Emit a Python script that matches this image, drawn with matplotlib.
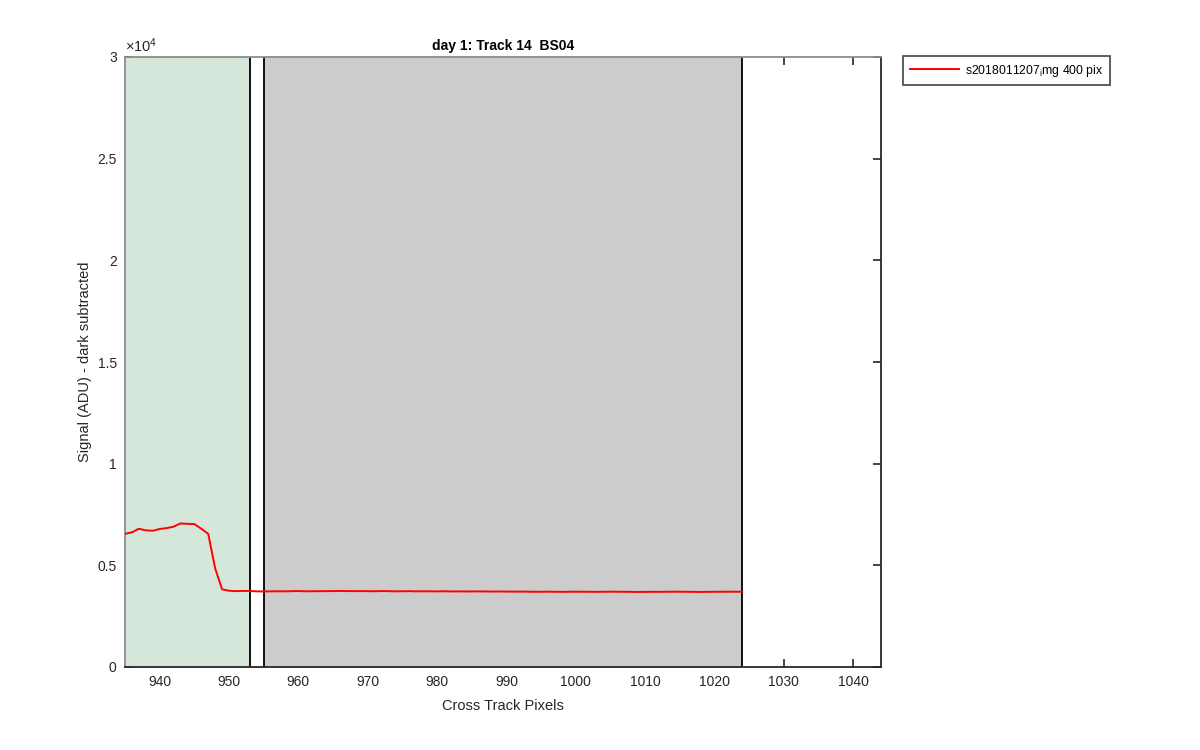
import matplotlib
matplotlib.use("Agg")
import matplotlib.pyplot as plt
import numpy as np
from matplotlib.ticker import FuncFormatter, MultipleLocator

plt.rcParams['font.family'] = ['Liberation Sans', 'DejaVu Sans']
plt.rcParams['mathtext.fontset'] = 'custom'
plt.rcParams['mathtext.rm'] = 'Liberation Sans'
plt.rcParams['mathtext.it'] = 'Liberation Sans'

# ---- data ----
pixels = list(range(935, 1025))
signal_head = [6550, 6620, 6800, 6720, 6700, 6790, 6830, 6900, 7060, 7040,
               7030, 6800, 6550, 4850, 3820, 3750, 3730, 3740, 3740, 3720,
               3715, 3720, 3725, 3720, 3730, 3735, 3725, 3725, 3730, 3730]
signal_mid = [3735, 3740, 3735, 3730, 3735, 3730, 3725, 3735, 3730, 3720,
              3725, 3730, 3720, 3725, 3720, 3720, 3725, 3715, 3720, 3715,
              3715, 3720, 3715, 3710, 3715, 3710, 3705, 3710, 3705, 3700]
signal_tail = [3700, 3705, 3700, 3695, 3700, 3705, 3700, 3700, 3695, 3700,
               3705, 3700, 3700, 3695, 3690, 3695, 3700, 3695, 3700, 3705,
               3700, 3700, 3695, 3690, 3695, 3700, 3700, 3705, 3700, 3705]
signal = signal_head + signal_mid + signal_tail

green_span = (935, 953)
gray_span = (955, 1024)
xlim = (935, 1044)
ylim = (0, 30000)
xticks = [940, 950, 960, 970, 980, 990, 1000, 1010, 1020, 1030, 1040]
yticks = [0, 5000, 10000, 15000, 20000, 25000, 30000]
title = "day 1: Track 14  BS04"
legend_label = r"s2018011207$_{\mathregular{i}}$mg 400 pix"

fig = plt.figure(figsize=(12, 7.5), dpi=100)
ax = fig.add_axes([125/1200, 1-667/750, (881-125)/1200, (667-57)/750])
ax.set_axisbelow(True)

ax.axvspan(*green_span, facecolor=(213/255, 231/255, 218/255), edgecolor='none', zorder=1)
ax.axvspan(*gray_span, facecolor=(204/255, 204/255, 204/255), edgecolor='none', zorder=1)
for xv in [green_span[1], gray_span[0], gray_span[1]]:
    ax.axvline(xv, color='black', lw=1.3, zorder=2)

ax.plot(pixels, signal, color=(1, 0, 0), lw=1.4, label=legend_label, zorder=4)

ax.set_xlim(*xlim)
ax.set_ylim(*ylim)
ax.set_xticks(xticks)
ax.set_yticks(yticks)
ax.yaxis.set_major_formatter(FuncFormatter(lambda v, p: f"{v/1e4:g}"))
ax.tick_params(direction='in', length=6, width=1.2, top=True, right=True,
               labelsize=10, colors='#262626', pad=6)
for s in ['left', 'top']:
    ax.spines[s].set_color('#8c8c8c')
for s in ['bottom', 'right']:
    ax.spines[s].set_color('#262626')
for s in ax.spines.values():
    s.set_linewidth(1.3)
    s.set_zorder(3)

ax.text(0, 1.003, r"$\times$10$^{4}$", transform=ax.transAxes, fontsize=10.5,
        ha='left', va='bottom', color='#262626')
ax.set_title(title, fontsize=10, fontweight='bold', pad=5)
ax.set_xlabel("Cross Track Pixels", fontsize=10.5, color='#262626', labelpad=7)
ax.set_ylabel("Signal (ADU) - dark subtracted", fontsize=10.5, color='#262626', labelpad=4)

leg = ax.legend(loc='upper left', bbox_to_anchor=(903/1200, 1-56/750), bbox_transform=fig.transFigure,
                fontsize=8.8, frameon=True, fancybox=False, edgecolor='#262626',
                handlelength=4.0, handletextpad=0.5, borderpad=0.55, borderaxespad=0)
leg.get_frame().set_linewidth(1.3)

fig.savefig("out.png", dpi=100)
